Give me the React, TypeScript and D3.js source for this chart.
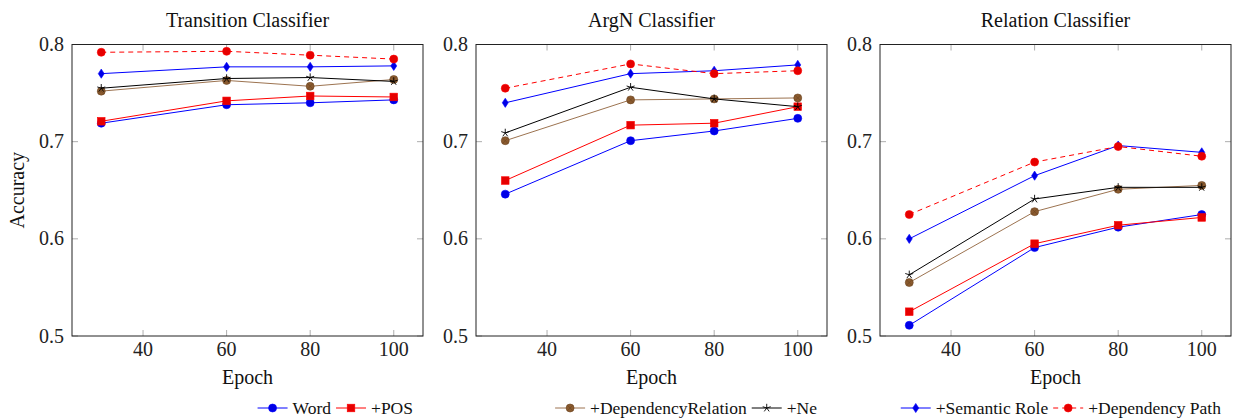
import React, { useEffect, useRef } from "react";
import * as d3 from "d3";

// chart values
const epochs = [30, 60, 80, 100];
const panelTitles = ["Transition Classifier", "ArgN Classifier", "Relation Classifier"];
const xTicks = [40, 60, 80, 100];
const yTicks = [0.5, 0.6, 0.7, 0.8];

// one row per panel: transition, argn, relation
const wordAcc = [
  [0.719, 0.738, 0.74, 0.743],
  [0.646, 0.701, 0.711, 0.724],
  [0.511, 0.591, 0.612, 0.625],
];
const posAcc = [
  [0.721, 0.742, 0.747, 0.746],
  [0.66, 0.717, 0.719, 0.736],
  [0.525, 0.595, 0.614, 0.622],
];
const depRelAcc = [
  [0.752, 0.763, 0.757, 0.764],
  [0.701, 0.743, 0.744, 0.745],
  [0.555, 0.628, 0.651, 0.655],
];
const neAcc = [
  [0.755, 0.765, 0.766, 0.762],
  [0.709, 0.756, 0.744, 0.736],
  [0.563, 0.641, 0.653, 0.653],
];
const semRoleAcc = [
  [0.77, 0.777, 0.777, 0.778],
  [0.74, 0.77, 0.773, 0.779],
  [0.6, 0.665, 0.696, 0.689],
];
const depPathAcc = [
  [0.792, 0.793, 0.789, 0.785],
  [0.755, 0.78, 0.77, 0.773],
  [0.625, 0.679, 0.695, 0.685],
];

const seriesNames = ["Word", "+POS", "+DependencyRelation", "+Ne", "+Semantic Role", "+Dependency Path"];
const seriesData = [wordAcc, posAcc, depRelAcc, neAcc, semRoleAcc, depPathAcc];
// which panel each legend entry sits under
const legendPanel = [0, 0, 1, 1, 2, 2];

const styles = [
  { line: "#0000ff", fill: "#0000e6", mark: "circle", dash: null },
  { line: "#ff0000", fill: "#e60000", mark: "square", dash: null },
  { line: "#9c7350", fill: "#8a5a2e", mark: "otimes", dash: null },
  { line: "#000000", fill: "#000000", mark: "star", dash: null },
  { line: "#0000ff", fill: "#0000e6", mark: "diamond", dash: null },
  { line: "#ff0000", fill: "#e60000", mark: "circle", dash: "5,4" },
];

const W = 1233;
const H = 418;
const FONT = '"Liberation Serif", "DejaVu Serif", serif';

const drawMark = (g, kind, x, y, st) => {
  if (kind === "circle") {
    g.append("circle").attr("cx", x).attr("cy", y).attr("r", 4)
      .attr("fill", st.fill).attr("stroke", st.line).attr("stroke-width", 0.6);
  } else if (kind === "square") {
    g.append("rect").attr("x", x - 3.8).attr("y", y - 3.8).attr("width", 7.6).attr("height", 7.6)
      .attr("fill", st.fill).attr("stroke", st.line).attr("stroke-width", 0.6);
  } else if (kind === "diamond") {
    g.append("path")
      .attr("d", `M${x},${y - 4.6}L${x + 3},${y}L${x},${y + 4.6}L${x - 3},${y}Z`)
      .attr("fill", st.fill).attr("stroke", st.line).attr("stroke-width", 0.6);
  } else if (kind === "otimes") {
    g.append("circle").attr("cx", x).attr("cy", y).attr("r", 4)
      .attr("fill", st.fill).attr("stroke", "#6b4522").attr("stroke-width", 0.6);
    const d = 2.8;
    g.append("path")
      .attr("d", `M${x - d},${y - d}L${x + d},${y + d}M${x - d},${y + d}L${x + d},${y - d}`)
      .attr("stroke", "#6b4522").attr("stroke-width", 0.6);
  } else if (kind === "star") {
    const r = 4.2;
    const p = d3.range(5).map((i) => {
      const a = -Math.PI / 2 + (i * 2 * Math.PI) / 5;
      return `M${x},${y}L${x + r * Math.cos(a)},${y + r * Math.sin(a)}`;
    });
    g.append("path").attr("d", p.join("")).attr("stroke", "#000").attr("stroke-width", 0.9)
      .attr("fill", "none");
  }
};

const App = () => {
  const ref = useRef(null);

  useEffect(() => {
    const svg = d3.select(ref.current);
    svg.selectAll("*").remove();

    const panelW = 351;
    const top = 44.5;
    const bottom = 336;
    const lefts = d3.range(3).map((i) => 72 + i * 404);

    const y = d3.scaleLinear().domain([0.5, 0.8]).range([bottom, top]);

    lefts.forEach((left, p) => {
      const x = d3.scaleLinear().domain([23, 107]).range([left, left + panelW]);
      const g = svg.append("g");

      // ticks (inward, mirrored on all sides)
      xTicks.forEach((t) => {
        g.append("line").attr("x1", x(t)).attr("x2", x(t)).attr("y1", bottom).attr("y2", bottom - 6)
          .attr("stroke", "#999").attr("stroke-width", 0.8);
        g.append("line").attr("x1", x(t)).attr("x2", x(t)).attr("y1", top).attr("y2", top + 6)
          .attr("stroke", "#999").attr("stroke-width", 0.8);
        g.append("text").attr("x", x(t)).attr("y", 356).attr("text-anchor", "middle")
          .style("font-family", FONT).style("font-size", "20px").attr("fill", "#222").text(t);
      });
      yTicks.forEach((t) => {
        g.append("line").attr("x1", left).attr("x2", left + 6).attr("y1", y(t)).attr("y2", y(t))
          .attr("stroke", "#999").attr("stroke-width", 0.8);
        g.append("line").attr("x1", left + panelW).attr("x2", left + panelW - 6).attr("y1", y(t)).attr("y2", y(t))
          .attr("stroke", "#999").attr("stroke-width", 0.8);
        g.append("text").attr("x", left - 8).attr("y", y(t) + 6.5).attr("text-anchor", "end")
          .style("font-family", FONT).style("font-size", "20px").attr("fill", "#222").text(t.toFixed(1));
      });

      g.append("rect").attr("x", left).attr("y", top).attr("width", panelW).attr("height", bottom - top)
        .attr("fill", "none").attr("stroke", "#222").attr("stroke-width", 1);

      g.append("text").attr("x", left + panelW / 2).attr("y", 27).attr("text-anchor", "middle")
        .style("font-family", FONT).style("font-size", "20px").attr("fill", "#111").text(panelTitles[p]);
      g.append("text").attr("x", left + panelW / 2).attr("y", 384).attr("text-anchor", "middle")
        .style("font-family", FONT).style("font-size", "20px").attr("fill", "#111").text("Epoch");

      const line = d3.line().x((d, i) => x(epochs[i])).y((d) => y(d));
      seriesData.forEach((s, k) => {
        const st = styles[k];
        g.append("path").datum(s[p]).attr("d", line).attr("fill", "none")
          .attr("stroke", st.line).attr("stroke-width", 1)
          .attr("stroke-dasharray", st.dash);
        s[p].forEach((v, i) => drawMark(g, st.mark, x(epochs[i]), y(v), st));
      });

      // legend entries for this panel, right aligned
      const items = seriesNames.map((n, k) => k).filter((k) => legendPanel[k] === p);
      const lg = svg.append("g");
      let cx = 0;
      items.forEach((k) => {
        const st = styles[k];
        lg.append("line").attr("x1", cx).attr("x2", cx + 30).attr("y1", 0).attr("y2", 0)
          .attr("stroke", st.line).attr("stroke-width", 1).attr("stroke-dasharray", st.dash);
        drawMark(lg, st.mark, cx + 15, 0, st);
        const txt = lg.append("text").attr("x", cx + 35).attr("y", 5.5)
          .style("font-family", FONT).style("font-size", "17.5px").attr("fill", "#111").text(seriesNames[k]);
        cx += 35 + txt.node().getComputedTextLength() + 5;
      });
      lg.attr("transform", `translate(${left + panelW - 5 - cx},408)`);
    });

    svg.append("text")
      .attr("transform", `translate(24,${(top + bottom) / 2}) rotate(-90)`)
      .attr("text-anchor", "middle").style("font-family", FONT).style("font-size", "20px")
      .attr("fill", "#111").text("Accuracy");
  }, []);

  return (
    <svg
      ref={ref}
      width={W}
      height={H}
      style={{ position: "absolute", left: 0, top: 0, background: "#fff" }}
    ></svg>
  );
};

export default App;
